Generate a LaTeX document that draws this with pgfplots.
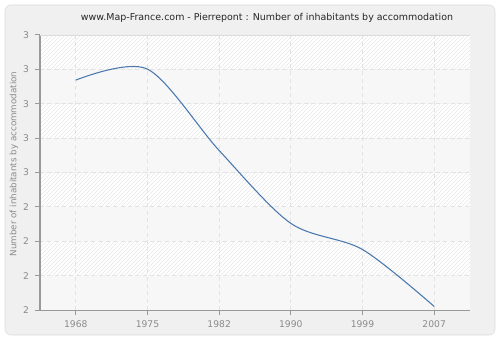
\documentclass[border=0pt]{standalone}
\usepackage{pgfplots}
\pgfplotsset{compat=1.18}
\usetikzlibrary{patterns}
\usepackage{fontspec}
\setmainfont{DejaVu Sans}
\definecolor{bgc}{HTML}{F0F0F0}
\definecolor{framec}{HTML}{DCDCDC}
\definecolor{linec}{HTML}{4A78AE}
\definecolor{gridc}{HTML}{E2E2E2}
\definecolor{tickc}{HTML}{8A8A8A}
\definecolor{axisc}{HTML}{999999}
\definecolor{bandc}{HTML}{F7F7F7}
\definecolor{hatchc}{HTML}{E9E9E9}
\begin{document}
\begin{tikzpicture}
\fill[white] (0pt,0pt) rectangle (375pt,255pt);
\draw[fill=bgc, draw=framec, rounded corners=4.5pt] (3.75pt,3.75pt) rectangle (371.25pt,251.25pt);
\node[font=\fontsize{7.1}{8}\selectfont, text=black!85] at (200.25pt,241.5pt) {www.Map-France.com - Pierrepont : Number of inhabitants by accommodation};
\node[rotate=90, font=\fontsize{6.55}{8}\selectfont, text=tickc] at (10.5pt,132pt) {Number of inhabitants by accommodation};
\begin{axis}[
  at={(30pt,22.5pt)}, anchor=south west,
  scale only axis, width=322.5pt, height=206.25pt,
  xmin=-0.5, xmax=5.5, ymin=2, ymax=3,
  xtick={0,1,2,3,4,5},
  xticklabels={1968,1975,1982,1990,1999,2007},
  ytick={2,2.125,2.25,2.375,2.5,2.625,2.75,2.875,3},
  yticklabels={2,2,2,2,3,3,3,3,3},
  /pgf/number format/assume math mode=true,
  tick label style={font=\fontsize{6.9}{7.5}\selectfont, text=tickc},
  tick align=outside,
  major tick length=3.75pt,
  tick style={draw=axisc, line width=0.75pt},
  xtick pos=bottom, ytick pos=left,
  axis x line*=bottom, axis y line*=left,
  axis line style={draw=axisc, line width=0.75pt, -},
  grid=major,
  major grid style={draw=gridc, dash pattern=on 3pt off 2.5pt, line width=0.6pt},
  axis background/.style={fill=white, path picture={
    \foreach \k in {0,2,4,6} {\fill[bandc] ([yshift=\k*25.78125pt]path picture bounding box.south west) rectangle ([yshift=\k*25.78125pt+25.78125pt]path picture bounding box.south east);}
    \foreach \k in {1,3,5,7} {\fill[pattern=north east lines, pattern color=hatchc] ([yshift=\k*25.78125pt]path picture bounding box.south west) rectangle ([yshift=\k*25.78125pt+25.78125pt]path picture bounding box.south east);}
  }},
  xticklabel style={yshift=-1pt},
  yticklabel style={xshift=-1pt},
  clip=true,
]
\addplot[forget plot, draw=framec, line width=0.6pt] coordinates {(5.5,2) (5.5,3) (-0.5,3)};
\addplot[color=linec, line width=0.8pt, smooth, no marks] coordinates {
(0,2.836) (1,2.876) (2,2.58) (3,2.315) (4,2.22) (5,2.013)
};
\end{axis}
\end{tikzpicture}
\end{document}
